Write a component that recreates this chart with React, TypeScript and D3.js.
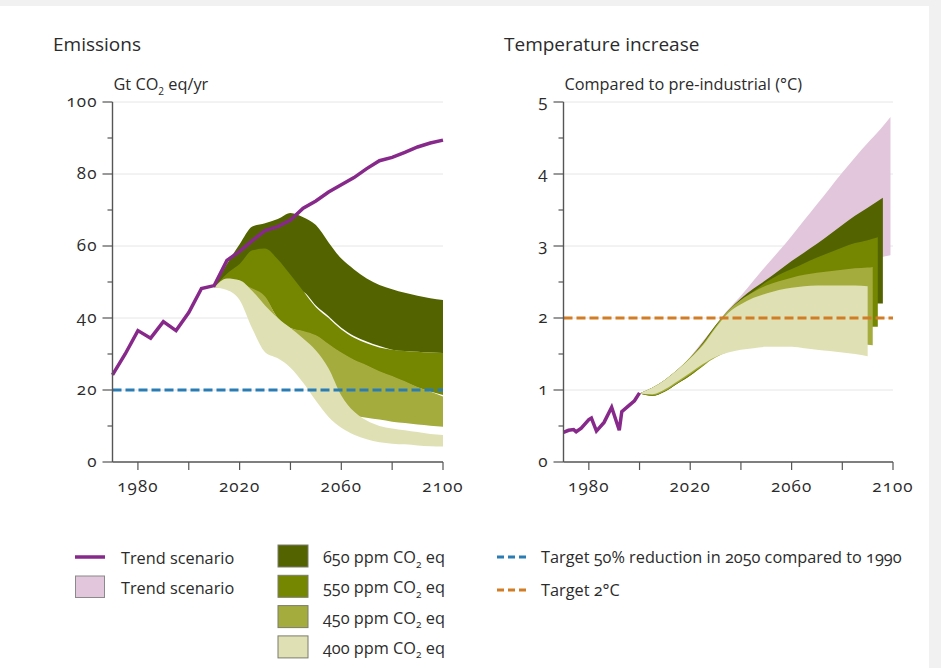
import React from 'react';
import * as d3 from 'd3';

// ---------- DATA ----------
// Emissions (Gt CO2 eq/yr)
const trendYears = [1970, 1975, 1980, 1985, 1990, 1995, 2000, 2005, 2010, 2015, 2020, 2025, 2030, 2035, 2040, 2045, 2050, 2055, 2060, 2065, 2070, 2075, 2080, 2085, 2090, 2095, 2100];
const trendEmissions = [24.2, 30, 36.5, 34.4, 39, 36.5, 41.5, 48.2, 49, 56, 58.5, 61.5, 64.3, 65.4, 67.2, 70.5, 72.5, 75, 77, 79, 81.5, 83.7, 84.6, 86, 87.5, 88.6, 89.4];

const emisYears = [2010, 2015, 2020, 2025, 2030, 2035, 2040, 2045, 2050, 2055, 2060, 2065, 2070, 2075, 2080, 2085, 2090, 2095, 2100];
const e650Upper = [49, 55, 60.5, 65.4, 66.3, 67.5, 69.2, 68, 65.8, 61, 56.5, 53.5, 51, 49.2, 48, 47, 46.2, 45.5, 45];
const e650Lower = [48.5, 49, 50, 50.5, 50.5, 49.5, 48, 47.3, 43.5, 40.5, 37.3, 35, 33.5, 32.2, 31.2, 30.8, 30.6, 30.4, 30.3];
const e550Upper = [48.5, 52.3, 55, 58.8, 59.3, 56.3, 52, 47.5, 43, 40, 36.8, 34.5, 33, 31.8, 31.2, 30.8, 30.6, 30.4, 30.3];
const e550Lower = [48.5, 49.8, 49.2, 47.8, 45.6, 40, 37.2, 36.2, 35, 32.6, 30.2, 28.2, 26.7, 25, 23.7, 22.2, 20.7, 19.6, 18.6];
const e450Upper = [48.5, 49.8, 49.5, 48.2, 46, 40, 37.2, 36.4, 35.2, 32.8, 30.4, 28.4, 26.9, 25.2, 23.9, 22.4, 20.8, 19.6, 18.2];
const e450Lower = [48.5, 48.5, 47, 42, 38, 35, 32.5, 29.5, 27, 21.5, 16, 13, 12.3, 11.8, 11.2, 10.8, 10.4, 10.1, 9.8];
const e400Upper = [48.5, 51, 50.5, 47.5, 43.5, 40, 37.2, 34.3, 31, 26, 18.5, 14, 11.5, 10, 9.3, 8.8, 8.3, 7.8, 7.5];
const e400Lower = [48.5, 47.8, 45, 37, 30.5, 28.8, 26.2, 22, 17, 12.5, 9.5, 7.6, 6.3, 5.5, 5.1, 4.9, 4.6, 4.4, 4.3];
const emissionTarget = 20;

// Temperature (°C above pre-industrial)
const tempHistYears = [1970, 1972, 1974, 1975, 1977, 1980, 1981, 1983, 1986, 1989, 1992, 1993, 1996, 1998, 2000];
const tempHist = [0.41, 0.44, 0.45, 0.42, 0.47, 0.59, 0.61, 0.43, 0.55, 0.76, 0.44, 0.7, 0.79, 0.85, 0.96];

const t400Years = [2000, 2005, 2010, 2015, 2020, 2025, 2030, 2035, 2040, 2045, 2050, 2055, 2060, 2065, 2070, 2075, 2080, 2085, 2090];
const t400Upper = [0.95, 1.03, 1.14, 1.28, 1.44, 1.62, 1.86, 2.07, 2.19, 2.28, 2.34, 2.39, 2.42, 2.44, 2.45, 2.45, 2.45, 2.45, 2.44];
const t400Lower = [0.95, 0.94, 1.01, 1.12, 1.24, 1.36, 1.46, 1.52, 1.56, 1.58, 1.6, 1.6, 1.6, 1.58, 1.56, 1.54, 1.52, 1.5, 1.47];

const t450Years = [2000, 2005, 2010, 2015, 2020, 2025, 2030, 2035, 2040, 2045, 2050, 2055, 2060, 2065, 2070, 2075, 2080, 2085, 2090, 2092];
const t450Upper = [0.95, 1.03, 1.14, 1.28, 1.45, 1.64, 1.88, 2.1, 2.25, 2.36, 2.45, 2.51, 2.56, 2.6, 2.63, 2.65, 2.67, 2.69, 2.7, 2.71];
const t450Lower = [0.95, 0.93, 0.99, 1.1, 1.22, 1.34, 1.45, 1.53, 1.58, 1.62, 1.64, 1.65, 1.66, 1.66, 1.66, 1.65, 1.65, 1.64, 1.63, 1.62];

const t550Years = [2000, 2005, 2010, 2015, 2020, 2025, 2030, 2035, 2040, 2045, 2050, 2055, 2060, 2065, 2070, 2075, 2080, 2085, 2090, 2094];
const t550Upper = [0.95, 1.03, 1.14, 1.28, 1.45, 1.65, 1.89, 2.1, 2.25, 2.37, 2.5, 2.6, 2.68, 2.76, 2.84, 2.91, 2.98, 3.04, 3.08, 3.12];
const t550Lower = [0.95, 0.92, 0.98, 1.09, 1.2, 1.33, 1.48, 1.6, 1.7, 1.76, 1.8, 1.83, 1.86, 1.87, 1.88, 1.89, 1.89, 1.89, 1.88, 1.88];

const t650Years = [2000, 2005, 2010, 2015, 2020, 2025, 2030, 2035, 2040, 2045, 2050, 2055, 2060, 2065, 2070, 2075, 2080, 2085, 2090, 2096];
const t650Upper = [0.95, 1.03, 1.14, 1.28, 1.45, 1.66, 1.9, 2.1, 2.27, 2.41, 2.53, 2.66, 2.79, 2.91, 3.03, 3.16, 3.29, 3.42, 3.53, 3.67];
const t650Lower = [0.95, 0.92, 0.98, 1.09, 1.2, 1.35, 1.55, 1.7, 1.8, 1.88, 1.95, 2.0, 2.05, 2.09, 2.12, 2.15, 2.17, 2.19, 2.2, 2.2];

const tTrendYears = [2000, 2005, 2010, 2015, 2020, 2025, 2030, 2035, 2040, 2045, 2050, 2055, 2060, 2065, 2070, 2075, 2080, 2085, 2090, 2095, 2099];
const tTrendUpper = [0.95, 1.0, 1.12, 1.28, 1.46, 1.68, 1.9, 2.12, 2.31, 2.52, 2.73, 2.93, 3.14, 3.36, 3.58, 3.8, 4.02, 4.23, 4.43, 4.62, 4.79];
const tTrendLower = [0.95, 0.92, 0.98, 1.09, 1.2, 1.35, 1.55, 1.72, 1.86, 1.98, 2.1, 2.2, 2.3, 2.4, 2.5, 2.6, 2.68, 2.75, 2.8, 2.84, 2.87];
const tempTarget = 2;

// Axes / labels
const xTickYears = [1980, 2000, 2020, 2040, 2060, 2080, 2100];
const xLabelYears = [1980, 2020, 2060, 2100];
const emisTicks = [0, 20, 40, 60, 80, 100];
const emisMinor = [10, 30, 50, 70, 90];
const tempTicks = [0, 1, 2, 3, 4, 5];
const tempMinor = [0.5, 1.5, 2.5, 3.5, 4.5];

const scenarioLabels = ['650 ppm', '550 ppm', '450 ppm', '400 ppm'];
const colTrend = '#87298a';
const colPink = '#e2c6dc';
const colBands = ['#526300', '#758700', '#a4ac3e', '#dfe1b4'];
const colBlue = '#2a7cb5';
const colOrange = '#d27d26';

const FONT = "'Open Sans', 'Noto Sans', sans-serif";
const TXT = '#2b2b2b';
const NUM: React.CSSProperties = { fontFeatureSettings: "'onum'" };

type Band = { years: number[]; upper: number[]; lower: number[]; color: string };

function CO2(props: { size: number }) {
  const d = props.size * 0.28;
  return (
    <>
      CO<tspan fontSize={props.size * 0.62} dy={d}>2</tspan><tspan dy={-d}> </tspan>
    </>
  );
}

function Panel(props: {
  x0: number; x1: number; yTop: number; yBot: number; domainMax: number;
  ticks: number[]; minor: number[]; title: string; unit: React.ReactNode; titleX: number;
  bands: Band[]; lines: { years: number[]; values: number[] }[]; target: number; targetColor: string;
}) {
  const { x0, x1, yTop, yBot, domainMax, ticks, minor, bands, lines, target, targetColor } = props;
  const x = d3.scaleLinear().domain([1970, 2100]).range([x0, x1]);
  const y = d3.scaleLinear().domain([0, domainMax]).range([yBot, yTop]);
  const line = d3.line<[number, number]>().x(d => x(d[0])).y(d => y(d[1]));
  return (
    <g>
      <text x={props.titleX} y={51} fontSize={19} fill={TXT} fontFamily={FONT}>{props.title}</text>
      <text x={x0 + 1} y={90} fontSize={16.3} fill={TXT} fontFamily={FONT}>{props.unit}</text>
      {ticks.filter(t => t > 0).map(t => (
        <line key={'g' + t} x1={x0} x2={x1} y1={y(t)} y2={y(t)} stroke="#e6e6e6" strokeWidth={1} />
      ))}
      {bands.map((b, i) => {
        const idx = b.years.map((_, j) => j);
        const gen = d3.area<number>()
          .x(j => x(b.years[j]))
          .y0(j => y(b.lower[j]))
          .y1(j => y(b.upper[j]))
          .curve(d3.curveMonotoneX);
        return <path key={'b' + i} d={gen(idx) || ''} fill={b.color} />;
      })}
      <line x1={x0} x2={x1} y1={y(target)} y2={y(target)} stroke={targetColor} strokeWidth={3} strokeDasharray="9 4" />
      {lines.map((l, i) => (
        <path key={'l' + i} d={line(l.years.map((yr, j) => [yr, l.values[j]] as [number, number])) || ''}
          fill="none" stroke={colTrend} strokeWidth={3.5} strokeLinejoin="miter" />
      ))}
      <line x1={x0} x2={x0} y1={yTop} y2={yBot} stroke="#555" strokeWidth={1.4} />
      <line x1={x0} x2={x1} y1={yBot} y2={yBot} stroke="#555" strokeWidth={1.4} />
      {ticks.map(t => (
        <g key={'yt' + t}>
          <line x1={x0 - 10} x2={x0} y1={y(t)} y2={y(t)} stroke="#555" strokeWidth={1.2} />
          <text x={x0 - 15} y={y(t)} dy="0.32em" textAnchor="end" fontSize={17} letterSpacing={1.1}
            fill={TXT} fontFamily={FONT} style={NUM}>{t}</text>
        </g>
      ))}
      {minor.map(t => (
        <line key={'ym' + t} x1={x0 - 5} x2={x0} y1={y(t)} y2={y(t)} stroke="#555" strokeWidth={1.2} />
      ))}
      {xTickYears.map(t => (
        <line key={'xt' + t} x1={x(t)} x2={x(t)} y1={yBot} y2={yBot + 8} stroke="#555" strokeWidth={1.2} />
      ))}
      {xLabelYears.map(t => (
        <text key={'xl' + t} x={x(t)} y={492} textAnchor="middle" fontSize={17} letterSpacing={1.1}
          fill={TXT} fontFamily={FONT} style={NUM}>{t}</text>
      ))}
    </g>
  );
}

export default function App() {
  const emisBands: Band[] = [
    { years: emisYears, upper: e650Upper, lower: e650Lower, color: colBands[0] },
    { years: emisYears, upper: e550Upper, lower: e550Lower, color: colBands[1] },
    { years: emisYears, upper: e450Upper, lower: e450Lower, color: colBands[2] },
    { years: emisYears, upper: e400Upper, lower: e400Lower, color: colBands[3] },
  ];
  const tempBands: Band[] = [
    { years: tTrendYears, upper: tTrendUpper, lower: tTrendLower, color: colPink },
    { years: t650Years, upper: t650Upper, lower: t650Lower, color: colBands[0] },
    { years: t550Years, upper: t550Upper, lower: t550Lower, color: colBands[1] },
    { years: t450Years, upper: t450Upper, lower: t450Lower, color: colBands[2] },
    { years: t400Years, upper: t400Upper, lower: t400Lower, color: colBands[3] },
  ];
  const LS = 16.3;
  return (
    <svg width={941} height={668} style={{ position: 'absolute', left: 0, top: 0 }} fontFamily={FONT}>
      <rect x={0} y={0} width={941} height={668} fill="#f1f1f1" />
      <rect x={0} y={6} width={929} height={662} fill="#ffffff" />
      <Panel x0={112.5} x1={443} yTop={102} yBot={462} domainMax={100} ticks={emisTicks} minor={emisMinor}
        title="Emissions" titleX={53} unit={<>Gt <CO2 size={16.3} />eq/yr</>}
        bands={emisBands} lines={[{ years: trendYears, values: trendEmissions }]} target={emissionTarget} targetColor={colBlue} />
      <Panel x0={563.5} x1={893} yTop={102} yBot={462} domainMax={5} ticks={tempTicks} minor={tempMinor}
        title="Temperature increase" titleX={504} unit="Compared to pre-industrial (°C)"
        bands={tempBands} lines={[{ years: tempHistYears, values: tempHist }]} target={tempTarget} targetColor={colOrange} />

      <g fontFamily={FONT} fontSize={LS} fill={TXT}>
        <line x1={75} x2={105} y1={557} y2={557} stroke={colTrend} strokeWidth={3.5} />
        <text x={121} y={563.5}>Trend scenario</text>
        <rect x={75.5} y={576} width={29} height={21.5} fill={colPink} stroke="#8a8a8a" strokeWidth={1} />
        <text x={121} y={593.5}>Trend scenario</text>
        {scenarioLabels.map((s, i) => (
          <g key={s}>
            <rect x={278} y={545 + i * 30.3} width={30} height={22} fill={colBands[i]} stroke="#7c7c6c" strokeWidth={1} />
            <text x={323} y={563 + i * 30.3} style={NUM}>{s} <CO2 size={LS} />eq</text>
          </g>
        ))}
        <line x1={497} x2={527} y1={557} y2={557} stroke={colBlue} strokeWidth={3} strokeDasharray="7 4" />
        <text x={541} y={563} style={NUM}>Target 50% reduction in 2050 compared to 1990</text>
        <line x1={497} x2={527} y1={590} y2={590} stroke={colOrange} strokeWidth={3} strokeDasharray="7 4" />
        <text x={541} y={596} style={NUM}>Target 2°C</text>
      </g>
    </svg>
  );
}
